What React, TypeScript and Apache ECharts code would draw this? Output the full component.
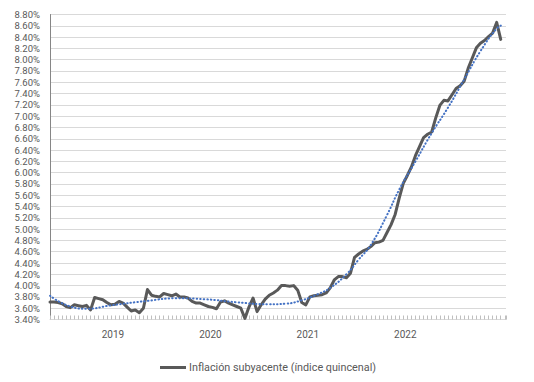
import React, { useEffect, useRef } from "react";
import * as echarts from "echarts";

const seriesName = "Inflación subyacente (índice quincenal)";

// Biweekly core inflation (%), one value per quincena
const coreInflation = [
  3.71, 3.71, 3.70, 3.68, 3.63, 3.61, 3.66, 3.645, 3.63, 3.65,
  3.57, 3.79, 3.77, 3.75, 3.70, 3.66, 3.67, 3.72, 3.69, 3.62,
  3.55, 3.57, 3.52, 3.60, 3.93, 3.83, 3.81, 3.80, 3.86, 3.84,
  3.82, 3.85, 3.80, 3.80, 3.78, 3.72, 3.69, 3.69, 3.66, 3.63,
  3.615, 3.59, 3.71, 3.73, 3.69, 3.66, 3.63, 3.60, 3.42, 3.62,
  3.78, 3.54, 3.66, 3.76, 3.83, 3.87, 3.92, 4.00, 4.00, 3.99,
  4.00, 3.92, 3.70, 3.66, 3.80, 3.82, 3.83, 3.84, 3.87, 3.96,
  4.10, 4.16, 4.16, 4.14, 4.22, 4.50, 4.56, 4.61, 4.64, 4.69,
  4.76, 4.77, 4.80, 4.94, 5.08, 5.26, 5.55, 5.81, 5.95, 6.10,
  6.30, 6.46, 6.62, 6.68, 6.72, 6.97, 7.19, 7.28, 7.27, 7.38,
  7.49, 7.54, 7.62, 7.85, 8.03, 8.21, 8.29, 8.34, 8.41, 8.47,
  8.66, 8.36,
];

// Trend line (dotted), read at selected positions
const trendPos = [0, 5, 9, 15, 24, 31, 38, 46, 54, 58, 62, 66, 69, 73, 76, 79, 83, 86, 90, 94, 98, 102, 106, 110, 111.6];
const trendVal = [3.82, 3.63, 3.59, 3.65, 3.73, 3.775, 3.76, 3.705, 3.67, 3.68, 3.74, 3.85, 3.96, 4.2, 4.46, 4.72, 5.25, 5.7, 6.2, 6.7, 7.15, 7.65, 8.15, 8.55, 8.62];

const yearLabels = ["2019", "2020", "2021", "2022"];
const yearLabelPos = [15.5, 39.5, 63.5, 87.5];

const FONT = "Roboto, 'Open Sans', sans-serif";

export default function App() {
  const ref = useRef<HTMLDivElement>(null);
  useEffect(() => {
    if (!ref.current) return;
    const chart = echarts.init(ref.current, null, { renderer: "svg" });
    const xMax = 112.3;
    chart.setOption({
      animation: false,
      backgroundColor: "#ffffff",
      textStyle: { fontFamily: FONT },
      graphic: [
        {
          type: "rect",
          shape: { x: 0.5, y: 0.5, width: 533, height: 381 },
          style: { fill: "none", stroke: "#d9d9d9", lineWidth: 1 },
          silent: true,
        },
      ],
      grid: { left: 50, top: 14.5, width: 456, height: 305, containLabel: false },
      legend: {
        data: [seriesName],
        left: 155,
        top: 357,
        icon: "rect",
        itemWidth: 26,
        itemHeight: 3,
        itemGap: 10,
        textStyle: { fontFamily: FONT, fontSize: 10.8, color: "#595959", padding: [0, 0, 0, -2] },
      },
      xAxis: [
        {
          type: "value",
          min: 0,
          max: xMax,
          interval: 1,
          axisLine: { show: true, lineStyle: { color: "#d9d9d9", width: 1 } },
          axisTick: { show: true, inside: true, length: 4, lineStyle: { color: "#bfbfbf" } },
          axisLabel: { show: false },
          splitLine: { show: false },
        },
        {
          type: "value",
          min: 0,
          max: xMax,
          interval: 0.5,
          position: "bottom",
          axisLine: { show: false },
          axisTick: { show: false },
          splitLine: { show: false },
          axisLabel: {
            show: true,
            margin: 10,
            color: "#595959",
            fontFamily: FONT,
            fontSize: 10,
            showMinLabel: true,
            showMaxLabel: false,
            formatter: (v: number) => {
              for (let k = 0; k < yearLabelPos.length; k++) {
                if (Math.abs(v - yearLabelPos[k]) < 0.01) return yearLabels[k];
              }
              return "";
            },
          },
        },
      ],
      yAxis: {
        type: "value",
        min: 3.4,
        max: 8.8,
        interval: 0.2,
        axisLine: { show: true, lineStyle: { color: "#868686", width: 1 } },
        axisTick: { show: false },
        splitLine: { show: true, lineStyle: { color: "#d9d9d9", width: 1 } },
        axisLabel: {
          margin: 10,
          color: "#595959",
          fontFamily: FONT,
          fontSize: 9.5,
          lineHeight: 10,
          formatter: (v: number) => v.toFixed(2) + "%",
        },
      },
      series: [
        {
          name: "Tendencia",
          type: "line",
          xAxisIndex: 0,
          data: trendPos.map((p, i) => [p, trendVal[i]]),
          smooth: 0.5,
          showSymbol: false,
          symbol: "none",
          lineStyle: { color: "#4472c4", width: 2, type: [0.5, 3], cap: "round" },
          z: 3,
        },
        {
          name: seriesName,
          type: "line",
          xAxisIndex: 0,
          data: coreInflation.map((v, i) => [i, v]),
          showSymbol: false,
          symbol: "none",
          itemStyle: { color: "#595959" },
          lineStyle: { color: "#595959", width: 3, join: "round", cap: "round" },
          z: 2,
        },
      ],
    });
    return () => chart.dispose();
  }, []);
  return <div ref={ref} style={{ width: 534, height: 382, margin: -8 }} />;
}
